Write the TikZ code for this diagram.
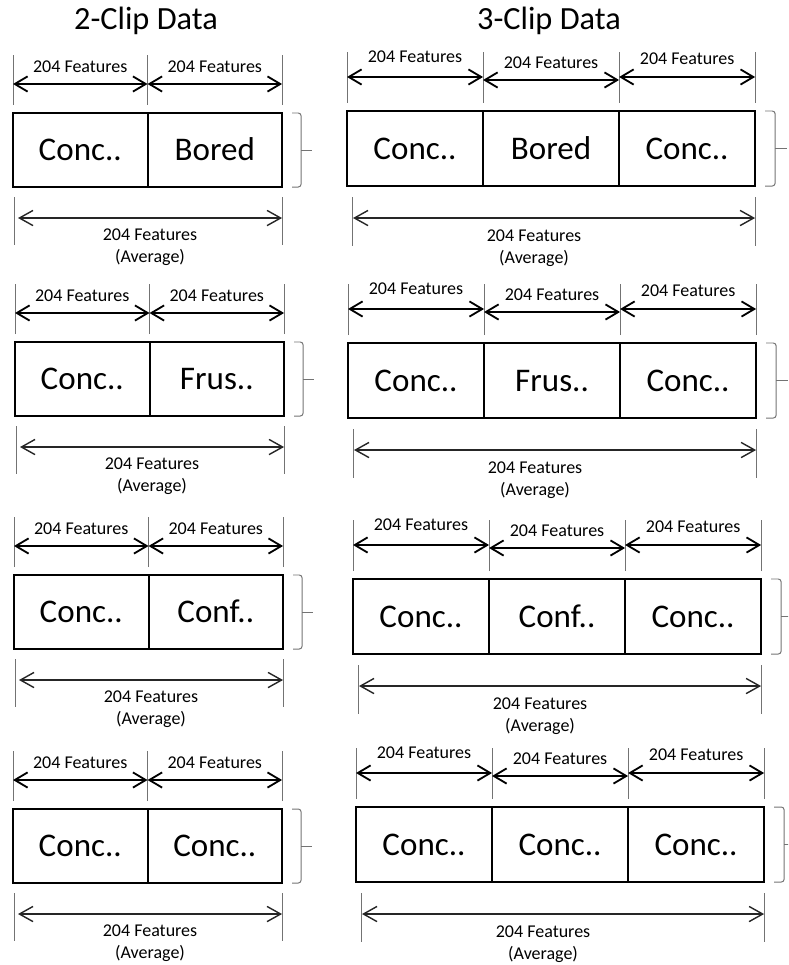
\documentclass[tikz,border=0pt]{standalone}
\usepackage{fontspec}
\setmainfont{Carlito}
\usetikzlibrary{arrows.meta,calc,positioning}
\tikzset{
  segBox/.style={rectangle, draw=black, line width=1.4pt, outer sep=0pt, inner sep=0pt, minimum width=3.3625cm, minimum height=1.85cm, text height=15.2pt, text depth=0pt, font=\fontsize{23.5}{28}\selectfont},
  wideSeg/.style={minimum width=3.4cm, minimum height=1.875cm},
  guide/.style={draw=black!55, line width=0.6pt},
  dimArrow/.style={{Straight Barb[length=3.2mm,width=3.8mm]}-{Straight Barb[length=3.2mm,width=3.8mm]}, draw=black, line width=1.3pt},
  avgArrow/.style={{Straight Barb[length=3.4mm,width=3.8mm]}-{Straight Barb[length=3.4mm,width=3.8mm]}, draw=black!85, line width=1pt},
  featLabel/.style={font=\fontsize{12.8}{15}\selectfont, inner sep=0pt, above=2.5mm},
  avgLabel/.style={font=\fontsize{12.8}{15}\selectfont, inner sep=0pt, align=center, anchor=north},
  bracket/.style={draw=black!55, line width=0.7pt, rounded corners=2pt},
  colTitle/.style={font=\fontsize{23}{27}\selectfont, anchor=base}
}
% #1 name, #2 #3 top left corner (px), #4 #5 clip labels
\newcommand{\twoClip}[5]{%
  \node[segBox, anchor=north west] (#1a) at (#2,#3) {#4};
  \node[segBox, anchor=north west] (#1b) at (#1a.north east) {#5};
  \draw[guide] ($(#1a.north west)+(0,-8)$) -- ++(0,-50);
  \draw[guide] ($(#1b.north west)+(0,-8)$) -- ++(0,-50);
  \draw[guide] ($(#1b.north east)+(0,-8)$) -- ++(0,-50);
  \coordinate (#1p) at ($(#1a.north west)+(0,-29)$);
  \coordinate (#1q) at ($(#1b.north west)+(0,-29)$);
  \coordinate (#1r) at ($(#1b.north east)+(0,-29)$);
  \draw[dimArrow] (#1p) -- node[featLabel] {204 Features} (#1q);
  \draw[dimArrow] (#1q) -- node[featLabel] {204 Features} (#1r);
  \draw[bracket] ($(#1b.north east)+(10,0)$) -- ++(9,0) -- ($(#1b.south east)+(19,0)$) -- ++(-9,0);
  \draw[bracket] ($(#1b.east)+(19,0)$) -- ++(11,0);
  \draw[guide] ($(#1a.south west)+(1,10)$) -- ++(0,48);
  \draw[guide] ($(#1b.south east)+(0,10)$) -- ++(0,48);
  \coordinate (#1s) at ($(#1a.south west)+(5,31)$);
  \coordinate (#1e) at ($(#1b.south east)+(0,31)$);
  \draw[avgArrow] (#1s) -- (#1e);
  \node[avgLabel] (#1avg) at ($(#1s)!0.5!(#1e)+(0,11)$) {204 Features\\(Average)};
}
% #1 name, #2 #3 top left corner (px), #4 #5 #6 clip labels
\newcommand{\threeClip}[6]{%
  \node[segBox, wideSeg, anchor=north west] (#1a) at (#2,#3) {#4};
  \node[segBox, wideSeg, anchor=north west] (#1b) at (#1a.north east) {#5};
  \node[segBox, wideSeg, anchor=north west] (#1c) at (#1b.north east) {#6};
  \draw[guide] ($(#1a.north west)+(0,-8)$) -- ++(0,-51);
  \draw[guide] ($(#1b.north west)+(0,-8)$) -- ++(0,-51);
  \draw[guide] ($(#1c.north west)+(0,-8)$) -- ++(0,-51);
  \draw[guide] ($(#1c.north east)+(0,-8)$) -- ++(0,-51);
  \coordinate (#1u0) at ($(#1a.north west)+(0,-34)$);
  \coordinate (#1u1) at ($(#1b.north west)+(0,-34)$);
  \coordinate (#1m1) at ($(#1b.north west)+(0,-31)$);
  \coordinate (#1m2) at ($(#1c.north west)+(0,-31)$);
  \coordinate (#1u2) at ($(#1c.north west)+(0,-34)$);
  \coordinate (#1u3) at ($(#1c.north east)+(0,-34)$);
  \draw[dimArrow] (#1u0) -- node[featLabel, above=3.4mm] {204 Features} (#1u1);
  \draw[dimArrow] (#1m1) -- node[featLabel] {204 Features} (#1m2);
  \draw[dimArrow] (#1u2) -- node[featLabel, above=2.8mm] {204 Features} (#1u3);
  \draw[bracket] ($(#1c.north east)+(10,0)$) -- ++(10,0) -- ($(#1c.south east)+(20,0)$) -- ++(-10,0);
  \draw[bracket] ($(#1c.east)+(20,0)$) -- ++(12,0);
  \draw[guide] ($(#1a.south west)+(5,11)$) -- ++(0,49);
  \draw[guide] ($(#1c.south east)+(0,11)$) -- ++(0,49);
  \coordinate (#1s) at ($(#1a.south west)+(6,32)$);
  \coordinate (#1e) at ($(#1c.south east)+(0,32)$);
  \draw[avgArrow] (#1s) -- (#1e);
  \node[avgLabel] (#1avg) at ($(#1s)!0.5!(#1e)+(-20,12)$) {204 Features\\(Average)};
}

\begin{document}
\begin{tikzpicture}[x=0.025cm,y=-0.025cm]
\clip (0,0) rectangle (788,965);

% --------------------------------------------------------------------------
% 2-Clip column
% --------------------------------------------------------------------------
\node[colTitle] (twoTitle) at (146,30) {2-Clip Data};
\twoClip{two1}{13}{113}{Conc..}{Bored}
\twoClip{two2}{15}{342}{Conc..}{Frus..}
\twoClip{two3}{14}{575}{Conc..}{Conf..}
\twoClip{two4}{13}{809}{Conc..}{Conc..}

% --------------------------------------------------------------------------
% 3-Clip column
% --------------------------------------------------------------------------
\node[colTitle] (threeTitle) at (549,30) {3-Clip Data};
\threeClip{three1}{347}{111}{Conc..}{Bored}{Conc..}
\threeClip{three2}{348}{343}{Conc..}{Frus..}{Conc..}
\threeClip{three3}{353}{579}{Conc..}{Conf..}{Conc..}
\threeClip{three4}{356}{807}{Conc..}{Conc..}{Conc..}

\end{tikzpicture}
\end{document}
